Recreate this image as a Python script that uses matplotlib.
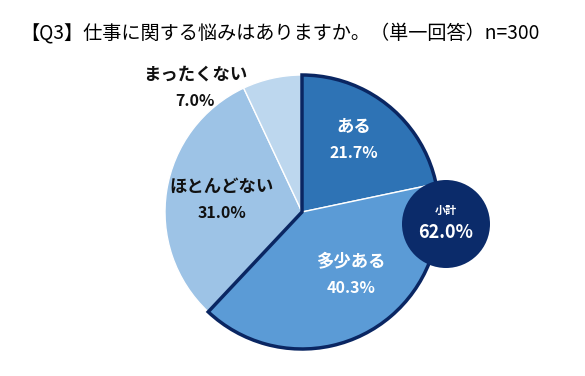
import matplotlib
matplotlib.use("Agg")
import matplotlib.pyplot as plt
from matplotlib.patches import Wedge, Circle

plt.rcParams['font.family'] = ['Noto Sans CJK JP', 'DejaVu Sans']

title = "【Q3】仕事に関する悩みはありますか。（単一回答）n=300"
categories = ["ある", "多少ある", "ほとんどない", "まったくない"]
values = [21.7, 40.3, 31.0, 7.0]
subtotal_label = "小計"
subtotal_value = 62.0
colors = ["#2E73B5", "#5B9BD6", "#9DC3E6", "#BDD7EE"]
text_colors = ["white", "white", "#111111", "#111111"]
label_pos = [(354, 140), (351, 275), (222, 200), (195, 88)]

W, H = 585, 376
fig = plt.figure(figsize=(W / 100, H / 100), dpi=100)
ax = fig.add_axes([0, 0, 1, 1])

cx, cy, r = 302, H - 212, 137
wedges, _ = ax.pie(values, colors=colors, startangle=90, counterclock=False,
                   center=(cx, cy), radius=r, frame=True,
                   wedgeprops=dict(edgecolor='white', linewidth=1.0))
ax.set_xlim(0, W)
ax.set_ylim(0, H)
ax.set_aspect('equal')
ax.axis('off')

# outline around the combined "yes" wedges
total = sum(values)
span = (values[0] + values[1]) / total * 360
outline = Wedge((cx, cy), r, 90 - span, 90, fill=False, edgecolor='#0A2662',
                linewidth=2.5, joinstyle='miter', zorder=5)
ax.add_patch(outline)

for cat, v, (x, y), tc in zip(categories, values, label_pos, text_colors):
    ax.text(x, H - y + 13, cat, ha='center', va='center', fontsize=12.5,
            fontweight='bold', color=tc, zorder=6)
    ax.text(x, H - y - 13, f"{v:.1f}%", ha='center', va='center', fontsize=11.5,
            fontweight='bold', color=tc, zorder=6)

circ = Circle((446, H - 224), 44, facecolor='#0B2B6A', edgecolor='none', zorder=7)
ax.add_patch(circ)
ax.text(446, H - 210, subtotal_label, ha='center', va='center', fontsize=8,
        fontweight='bold', color='white', zorder=8)
ax.text(446, H - 233, f"{subtotal_value:.1f}%", ha='center', va='center',
        fontsize=13, fontweight='bold', color='white', zorder=8)

fig.text(20 / W, 1 - 33 / H, title, ha='left', va='center', fontsize=13.8,
         color='black')

fig.savefig("out.png", dpi=100)
